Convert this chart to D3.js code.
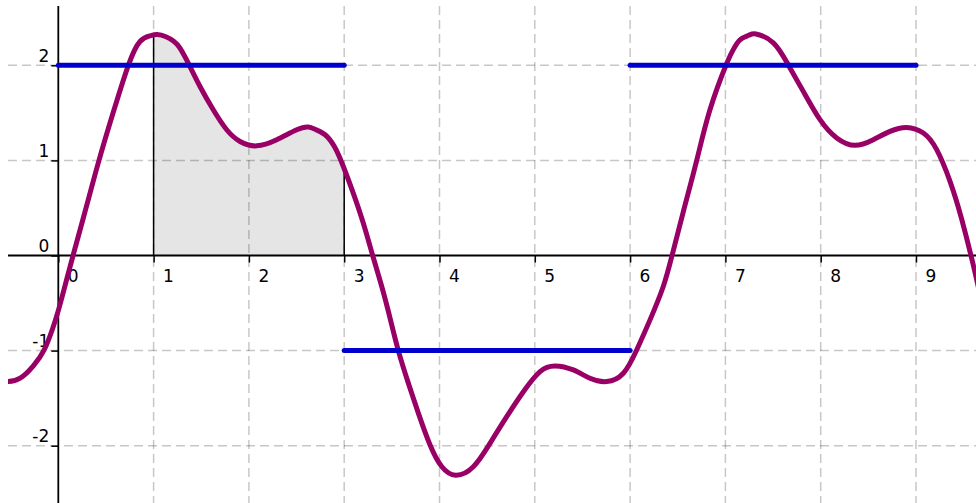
<!DOCTYPE html>
<html>
<head>
<meta charset="utf-8">
<script src="https://cdn.jsdelivr.net/npm/d3@7"></script>
<style>
  html, body { margin: 0; padding: 0; background: #fff; }
  svg { display: block; font-family: "DejaVu Sans", sans-serif; }
</style>
</head>
<body>
<div id="chart-container"></div>
<script>
// points
const curvePoints = [
  [-0.62, -1.32], [-0.526, -1.326], [-0.40, -1.29], [-0.262, -1.16], [-0.147, -0.99],
  [-0.06, -0.77], [0.0, -0.58], [0.075, -0.30], [0.155, 0.0], [0.291, 0.5],
  [0.427, 1.0], [0.575, 1.5], [0.735, 2.0], [0.857, 2.25], [0.962, 2.31],
  [1.036, 2.323], [1.13, 2.30], [1.211, 2.253], [1.277, 2.18], [1.375, 2.0],
  [1.487, 1.777], [1.626, 1.532], [1.767, 1.322], [1.907, 1.199], [2.082, 1.153],
  [2.292, 1.217], [2.502, 1.322], [2.623, 1.35], [2.7, 1.325], [2.8, 1.27],
  [2.9, 1.14], [2.991, 0.936], [3.095, 0.656], [3.2, 0.341], [3.299, 0.0],
  [3.394, -0.326], [3.481, -0.658], [3.568, -1.0], [3.673, -1.342], [3.778, -1.657],
  [3.9, -1.99], [4.023, -2.219], [4.17, -2.31], [4.355, -2.221], [4.53, -1.975],
  [4.705, -1.695], [4.88, -1.432], [5.055, -1.221], [5.212, -1.161], [5.404, -1.203],
  [5.579, -1.291], [5.755, -1.326], [5.929, -1.238], [6.069, -0.993], [6.209, -0.677],
  [6.348, -0.326], [6.44, 0.0], [6.558, 0.46], [6.699, 1.0], [6.838, 1.532],
  [7.006, 2.0], [7.08, 2.16], [7.153, 2.268], [7.245, 2.315], [7.321, 2.33],
  [7.503, 2.236], [7.66, 2.004], [7.817, 1.726], [7.993, 1.428], [8.168, 1.236],
  [8.36, 1.158], [8.552, 1.218], [8.727, 1.305], [8.902, 1.347], [9.077, 1.288],
  [9.217, 1.113], [9.357, 0.78], [9.48, 0.38], [9.601, -0.1], [9.68, -0.45]
];

// blue step levels
const segStart = [0, 3, 6];
const segEnd = [3, 6, 9];
const segLevel = [2, -1, 2];

// shaded interval and curve height at its edges
const shadeFrom = 1;
const shadeTo = 3;
const edgeValues = [2.32, 0.92];

const xTicks = [0, 1, 2, 3, 4, 5, 6, 7, 8, 9];
const yTicks = [-2, -1, 0, 1, 2];

const width = 976;
const height = 503;
const plotLeft = 8, plotTop = 6;

const svg = d3.select("#chart-container")
    .append("svg")
    .attr("width", width)
    .attr("height", height);

const xScale = d3.scaleLinear().domain([0, 9]).range([58.3, 916]);
const yScale = d3.scaleLinear().domain([-2, 2]).range([445.7, 65.3]);

svg.append("clipPath").attr("id", "plot")
  .append("rect")
    .attr("x", plotLeft).attr("y", plotTop)
    .attr("width", width - plotLeft).attr("height", height - plotTop);

svg.append("clipPath").attr("id", "shade")
  .append("rect")
    .attr("x", xScale(shadeFrom)).attr("y", 0)
    .attr("width", xScale(shadeTo) - xScale(shadeFrom)).attr("height", height);

const line = d3.line()
    .x(d => xScale(d[0]))
    .y(d => yScale(d[1]))
    .curve(d3.curveNatural);

const area = d3.area()
    .x(d => xScale(d[0]))
    .y0(yScale(0))
    .y1(d => yScale(d[1]))
    .curve(d3.curveNatural);

// shaded region
svg.append("path")
    .datum(curvePoints)
    .attr("clip-path", "url(#shade)")
    .attr("d", area)
    .attr("fill", "#e5e5e5");

// grid
const grid = svg.append("g")
    .attr("stroke", "#000")
    .attr("stroke-opacity", 0.22)
    .attr("stroke-width", 1.5)
    .attr("stroke-dasharray", "9,5");

grid.selectAll(".vgrid")
    .data(xTicks.filter(d => d !== 0))
    .enter().append("line")
    .attr("class", "vgrid")
    .attr("x1", d => xScale(d)).attr("x2", d => xScale(d))
    .attr("y1", plotTop).attr("y2", height);

grid.selectAll(".hgrid")
    .data(yTicks.filter(d => d !== 0))
    .enter().append("line")
    .attr("class", "hgrid")
    .attr("x1", plotLeft).attr("x2", width)
    .attr("y1", d => yScale(d)).attr("y2", d => yScale(d));

// axes
const xAxis = svg.append("g")
    .attr("transform", `translate(0, ${yScale(0)})`)
    .call(d3.axisBottom(xScale).tickValues(xTicks).tickFormat(d => String(d))
      .tickSize(7).tickSizeOuter(0));
xAxis.select(".domain").remove();
xAxis.selectAll("line").attr("stroke", "#000").attr("stroke-width", 1.5);
xAxis.selectAll("text")
    .attr("text-anchor", "start")
    .attr("x", 9).attr("y", 26).attr("dy", 0)
    .attr("fill", "#000")
    .style("font-size", "17px")
    .style("font-family", "'DejaVu Sans', sans-serif");

const yAxis = svg.append("g")
    .attr("transform", `translate(${xScale(0)}, 0)`)
    .call(d3.axisLeft(yScale).tickValues(yTicks).tickFormat(d => String(d))
      .tickSize(7).tickSizeOuter(0));
yAxis.select(".domain").remove();
yAxis.selectAll("line").attr("stroke", "#000").attr("stroke-width", 1.5);
yAxis.selectAll("text")
    .attr("text-anchor", "end")
    .attr("x", -9).attr("y", -4).attr("dy", 0)
    .attr("fill", "#000")
    .style("font-size", "17px")
    .style("font-family", "'DejaVu Sans', sans-serif");

svg.append("line")
    .attr("x1", plotLeft).attr("x2", width)
    .attr("y1", yScale(0)).attr("y2", yScale(0))
    .attr("stroke", "#000").attr("stroke-width", 1.8);

svg.append("line")
    .attr("x1", xScale(0)).attr("x2", xScale(0))
    .attr("y1", plotTop).attr("y2", height)
    .attr("stroke", "#000").attr("stroke-width", 1.8);

// edges of the shaded region
svg.selectAll(".edge")
    .data([shadeFrom, shadeTo])
    .enter().append("line")
    .attr("class", "edge")
    .attr("x1", d => xScale(d)).attr("x2", d => xScale(d))
    .attr("y1", yScale(0))
    .attr("y2", (d, i) => yScale(edgeValues[i]))
    .attr("stroke", "#000").attr("stroke-width", 1.5);

// purple curve
svg.append("path")
    .datum(curvePoints)
    .attr("clip-path", "url(#plot)")
    .attr("d", line)
    .attr("fill", "none")
    .attr("stroke", "#990066")
    .attr("stroke-width", 5)
    .attr("stroke-linejoin", "round");

// blue steps
svg.selectAll(".step")
    .data(segLevel)
    .enter().append("line")
    .attr("class", "step")
    .attr("x1", (d, i) => xScale(segStart[i]))
    .attr("x2", (d, i) => xScale(segEnd[i]))
    .attr("y1", d => yScale(d)).attr("y2", d => yScale(d))
    .attr("stroke", "#0000cc")
    .attr("stroke-width", 5)
    .attr("stroke-linecap", "round");
</script>
</body>
</html>
